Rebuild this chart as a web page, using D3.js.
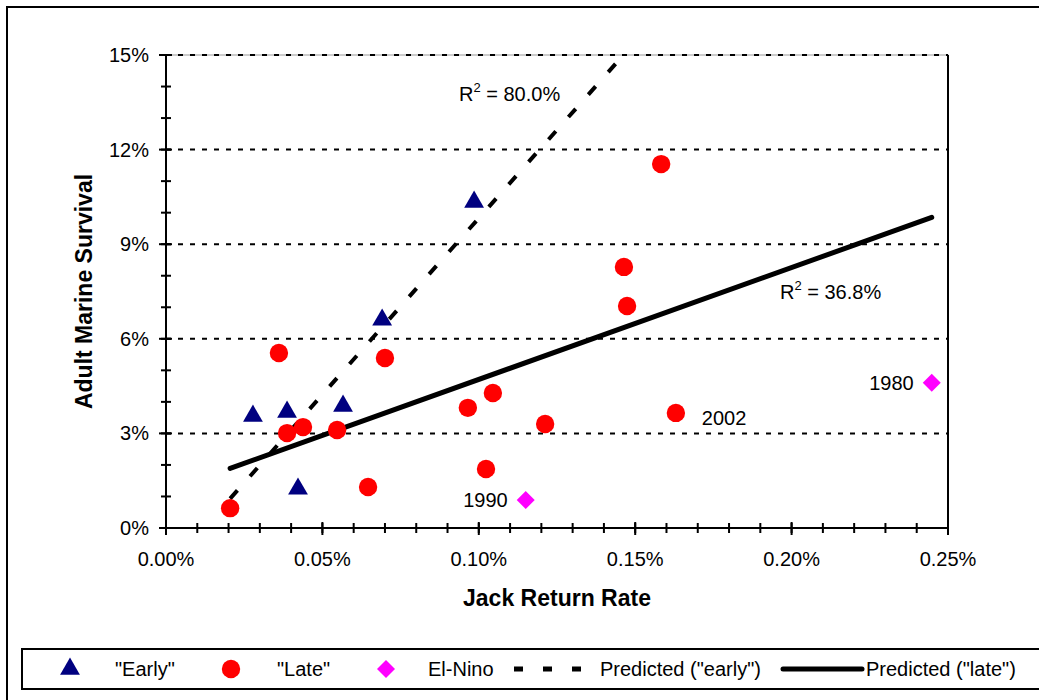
<!DOCTYPE html>
<html>
<head>
<meta charset="utf-8">
<script src="https://cdn.jsdelivr.net/npm/d3@7"></script>
<style>
  body { margin: 0; background: #fff; }
  svg text { font-family: Arial, "Liberation Sans", sans-serif; fill: #000; }
</style>
</head>
<body>
<svg id="mainsvg" width="1039" height="700"></svg>
<script>
// values, in percent
const earlyX = [0.0278, 0.0387, 0.0422, 0.0566, 0.0691, 0.0985];
const earlyY = [3.55, 3.68, 1.24, 3.87, 6.60, 10.34];

const lateX = [0.0205, 0.0361, 0.0387, 0.0438, 0.0547, 0.0646, 0.0700, 0.0965,
               0.1045, 0.1023, 0.1212, 0.1464, 0.1474, 0.1583, 0.1630];
const lateY = [0.63, 5.55, 3.01, 3.20, 3.11, 1.30, 5.39, 3.81,
               4.28, 1.87, 3.30, 8.28, 7.04, 11.54, 3.65];
const lateYears = [null, null, null, null, null, null, null, null,
                   null, null, null, null, null, null, "2002"];

const ninoX = [0.1150, 0.2448];
const ninoY = [0.89, 4.61];
const ninoYears = ["1990", "1980"];

const predEarlyX = [0.0205, 0.2448];
const predEarlyY = [0.93, 26.03];
const predLateX = [0.0205, 0.2448];
const predLateY = [1.89, 9.85];

const r2Labels = ["80.0%", "36.8%"];

const xTicks = [0, 0.05, 0.10, 0.15, 0.20, 0.25];
const yTicks = [0, 3, 6, 9, 12, 15];

const legendNames = ['"Early"', '"Late"', 'El-Nino', 'Predicted ("early")', 'Predicted ("late")'];

let svg = d3.select("#mainsvg");
let zip = (xs, ys) => xs.map((x, i) => ({x: x, y: ys[i], i: i}));

let x = d3.scaleLinear().domain([0, 0.25]).range([166, 948]);
let y = d3.scaleLinear().domain([0, 15]).range([528, 55]);

// outer chart frame
svg.append("rect").attr("x", 7).attr("y", 7).attr("width", 1040).attr("height", 700)
    .attr("fill", "none").attr("stroke", "#000").attr("stroke-width", 2);

// plot area
svg.append("rect").attr("x", x(0)).attr("y", y(15)).attr("width", x(0.25) - x(0)).attr("height", y(0) - y(15))
    .attr("fill", "#fff").attr("stroke", "#999").attr("stroke-width", 1);
svg.append("line").attr("x1", x(0.25)).attr("x2", x(0.25)).attr("y1", y(15)).attr("y2", y(0))
    .attr("stroke", "#000").attr("stroke-width", 2);

// gridlines
svg.append("g").selectAll("line").data(yTicks.filter(d => d > 0)).enter().append("line")
    .attr("x1", x(0)).attr("x2", x(0.25))
    .attr("y1", d => y(d)).attr("y2", d => y(d))
    .attr("stroke", "#000").attr("stroke-width", 2).attr("stroke-dasharray", "5,7");

svg.append("clipPath").attr("id", "plotclip").append("rect")
    .attr("x", x(0)).attr("y", y(15)).attr("width", x(0.25) - x(0)).attr("height", y(0) - y(15));

// axes
let xAxis = svg.append("g").attr("transform", `translate(0,${y(0)})`);
xAxis.append("line").attr("x1", x(0)).attr("x2", x(0.25)).attr("stroke", "#000").attr("stroke-width", 2);
xAxis.selectAll(".minor").data(d3.range(0, 26).map(d => d / 100)).enter().append("line")
    .attr("x1", d => x(d)).attr("x2", d => x(d))
    .attr("y1", -5).attr("y2", 5).attr("stroke", "#000").attr("stroke-width", 2);
xAxis.selectAll(".major").data(xTicks).enter().append("line")
    .attr("x1", d => x(d)).attr("x2", d => x(d))
    .attr("y1", -6).attr("y2", 7).attr("stroke", "#000").attr("stroke-width", 2);
xAxis.selectAll("text").data(xTicks).enter().append("text")
    .attr("x", d => x(d)).attr("y", 38)
    .attr("text-anchor", "middle").attr("font-size", 20)
    .text(d => d3.format(".2f")(d) + "%");

let yAxis = svg.append("g").attr("transform", `translate(${x(0)},0)`);
yAxis.append("line").attr("y1", y(0)).attr("y2", y(15)).attr("stroke", "#000").attr("stroke-width", 2);
yAxis.selectAll(".minor").data(d3.range(0, 16)).enter().append("line")
    .attr("y1", d => y(d)).attr("y2", d => y(d))
    .attr("x1", -5).attr("x2", 5).attr("stroke", "#000").attr("stroke-width", 2);
yAxis.selectAll(".major").data(yTicks).enter().append("line")
    .attr("y1", d => y(d)).attr("y2", d => y(d))
    .attr("x1", -7).attr("x2", 6).attr("stroke", "#000").attr("stroke-width", 2);
yAxis.selectAll("text").data(yTicks).enter().append("text")
    .attr("x", -17).attr("y", d => y(d) + 7)
    .attr("text-anchor", "end").attr("font-size", 20)
    .text(d => d + "%");

// axis titles
svg.append("text").attr("x", (x(0) + x(0.25)) / 2).attr("y", 606)
    .attr("text-anchor", "middle").attr("font-size", 23).attr("font-weight", "bold")
    .text("Jack Return Rate");
svg.append("text").attr("transform", `translate(92,${(y(0) + y(15)) / 2}) rotate(-90)`)
    .attr("text-anchor", "middle").attr("font-size", 23).attr("font-weight", "bold")
    .text("Adult Marine Survival");

// predicted lines
let line = d3.line().x(d => x(d.x)).y(d => y(d.y));
let linesG = svg.append("g").attr("clip-path", "url(#plotclip)");
linesG.append("path").datum(zip(predEarlyX, predEarlyY)).attr("d", line)
    .attr("fill", "none").attr("stroke", "#000").attr("stroke-width", 4)
    .attr("stroke-dasharray", "11,19");
linesG.append("path").datum(zip(predLateX, predLateY)).attr("d", line)
    .attr("fill", "none").attr("stroke", "#000").attr("stroke-width", 5)
    .attr("stroke-linecap", "round");

// markers
let triangle = d3.symbol().type(d3.symbolTriangle).size(170);
let diamond = "M0,-9L9,0L0,9L-9,0Z";

svg.append("g").selectAll("circle").data(zip(lateX, lateY)).enter().append("circle")
    .attr("cx", d => x(d.x)).attr("cy", d => y(d.y)).attr("r", 9.2).attr("fill", "#ff0000");
svg.append("g").selectAll("path").data(zip(earlyX, earlyY)).enter().append("path")
    .attr("d", triangle).attr("transform", d => `translate(${x(d.x)},${y(d.y)})`)
    .attr("fill", "#000080");
svg.append("g").selectAll("path").data(zip(ninoX, ninoY)).enter().append("path")
    .attr("d", diamond).attr("transform", d => `translate(${x(d.x)},${y(d.y)})`)
    .attr("fill", "#ff00ff");

// year labels
svg.append("g").selectAll("text").data(zip(ninoX, ninoY)).enter().append("text")
    .attr("x", d => x(d.x) - 18).attr("y", d => y(d.y) + 7)
    .attr("text-anchor", "end").attr("font-size", 20)
    .text(d => ninoYears[d.i]);
svg.append("g").selectAll("text").data(zip(lateX, lateY).filter(d => lateYears[d.i])).enter().append("text")
    .attr("x", d => x(d.x) + 26).attr("y", d => y(d.y) + 12)
    .attr("font-size", 20)
    .text(d => lateYears[d.i]);

// R squared labels
function r2(xp, yp, val) {
    let t = svg.append("text").attr("x", xp).attr("y", yp).attr("font-size", 20);
    t.append("tspan").text("R");
    t.append("tspan").attr("font-size", 13).attr("dy", -9).text("2");
    t.append("tspan").attr("dy", 9).text(" = " + val);
}
r2(459, 101, r2Labels[0]);
r2(780, 299, r2Labels[1]);

// legend
let legend = svg.append("g");
legend.append("rect").attr("x", 22).attr("y", 649).attr("width", 1030).attr("height", 40)
    .attr("fill", "#fff").attr("stroke", "#000").attr("stroke-width", 2);
let ly = 669;
legend.append("path").attr("d", triangle).attr("transform", `translate(70,${ly})`).attr("fill", "#000080");
legend.append("circle").attr("cx", 231).attr("cy", ly).attr("r", 9.2).attr("fill", "#ff0000");
legend.append("path").attr("d", diamond).attr("transform", `translate(386,${ly})`).attr("fill", "#ff00ff");
legend.append("line").attr("x1", 514).attr("x2", 588).attr("y1", ly).attr("y2", ly)
    .attr("stroke", "#000").attr("stroke-width", 5).attr("stroke-dasharray", "9,20");
legend.append("line").attr("x1", 783).attr("x2", 862).attr("y1", ly).attr("y2", ly)
    .attr("stroke", "#000").attr("stroke-width", 5).attr("stroke-linecap", "round");
let legendTextX = [115, 277, 428, 600, 866];
legend.selectAll("text").data(legendNames).enter().append("text")
    .attr("x", (d, i) => legendTextX[i]).attr("y", ly + 7).attr("font-size", 20)
    .text(d => d);
</script>
</body>
</html>
